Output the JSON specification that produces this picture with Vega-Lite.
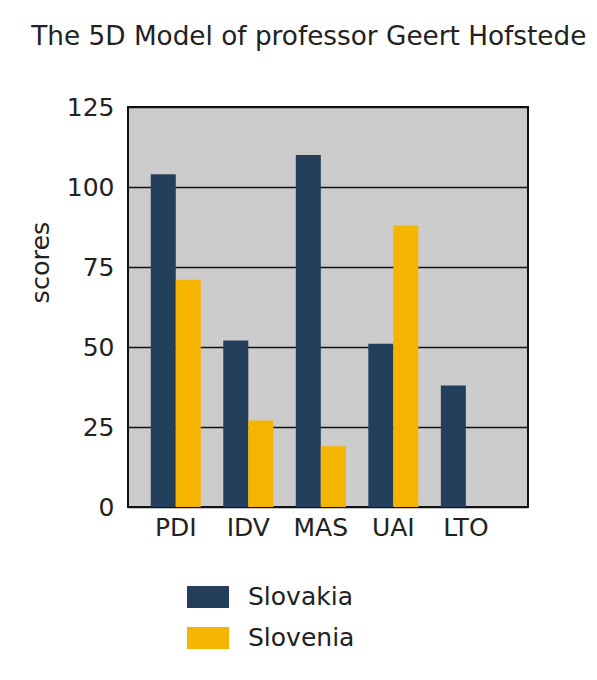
{
  "$schema": "https://vega.github.io/schema/vega-lite/v6.json",
  "width": 400,
  "height": 400,
  "autosize": "none",
  "padding": {"left": 128, "top": 107, "right": 69, "bottom": 173},
  "background": "white",
  "title": {
    "text": "The 5D Model of professor Geert Hofstede",
    "anchor": "start",
    "frame": "bounds",
    "font": "DejaVu Sans",
    "fontSize": 26.3,
    "fontWeight": "normal",
    "color": "#222222",
    "offset": 45,
    "dx": 3
  },
  "data": {
    "values": [
      {"dimension": "PDI", "country": "Slovakia", "score": 104},
      {"dimension": "PDI", "country": "Slovenia", "score": 71},
      {"dimension": "IDV", "country": "Slovakia", "score": 52},
      {"dimension": "IDV", "country": "Slovenia", "score": 27},
      {"dimension": "MAS", "country": "Slovakia", "score": 110},
      {"dimension": "MAS", "country": "Slovenia", "score": 19},
      {"dimension": "UAI", "country": "Slovakia", "score": 51},
      {"dimension": "UAI", "country": "Slovenia", "score": 88},
      {"dimension": "LTO", "country": "Slovakia", "score": 38}
    ]
  },
  "mark": {"type": "bar"},
  "encoding": {
    "x": {
      "field": "dimension",
      "type": "nominal",
      "sort": ["PDI", "IDV", "MAS", "UAI", "LTO"],
      "scale": {"type": "band", "paddingInner": 0.31, "paddingOuter": 0.413, "align": 0.38},
      "axis": {
        "title": null,
        "labelAngle": 0,
        "labelFont": "DejaVu Sans",
        "labelFontSize": 25,
        "labelColor": "#222222",
        "labelPadding": 8,
        "ticks": false,
        "domain": false
      }
    },
    "xOffset": {
      "field": "country",
      "type": "nominal",
      "sort": ["Slovakia", "Slovenia"],
      "scale": {"paddingInner": 0, "paddingOuter": 0}
    },
    "y": {
      "field": "score",
      "type": "quantitative",
      "scale": {"domain": [0, 125], "nice": false},
      "axis": {
        "title": "scores",
        "values": [0, 25, 50, 75, 100, 125],
        "titleFont": "DejaVu Sans",
        "titleFontSize": 25.5,
        "titleFontWeight": "normal",
        "titleColor": "#222222",
        "titlePadding": 13,
        "titleY": 155,
        "labelFont": "DejaVu Sans",
        "labelFontSize": 25,
        "labelColor": "#222222",
        "labelPadding": 14,
        "ticks": false,
        "domain": false,
        "grid": true,
        "gridColor": "#111111",
        "gridWidth": 1.5
      }
    },
    "color": {
      "field": "country",
      "type": "nominal",
      "sort": ["Slovakia", "Slovenia"],
      "scale": {"domain": ["Slovakia", "Slovenia"], "range": ["#233f5c", "#f4b400"]},
      "legend": {
        "title": null,
        "orient": "none",
        "legendX": 60,
        "legendY": 470,
        "padding": 0,
        "direction": "vertical",
        "symbolType": "M-1.05,-0.55H1.05V0.55H-1.05Z",
        "symbolSize": 1600,
        "symbolStrokeWidth": 0,
        "symbolOpacity": 1,
        "labelFont": "DejaVu Sans",
        "labelFontSize": 25,
        "labelColor": "#222222",
        "labelOffset": 20,
        "rowPadding": 8
      }
    }
  },
  "config": {
    "view": {"fill": "#cccccc", "stroke": "#111111", "strokeWidth": 2}
  }
}
